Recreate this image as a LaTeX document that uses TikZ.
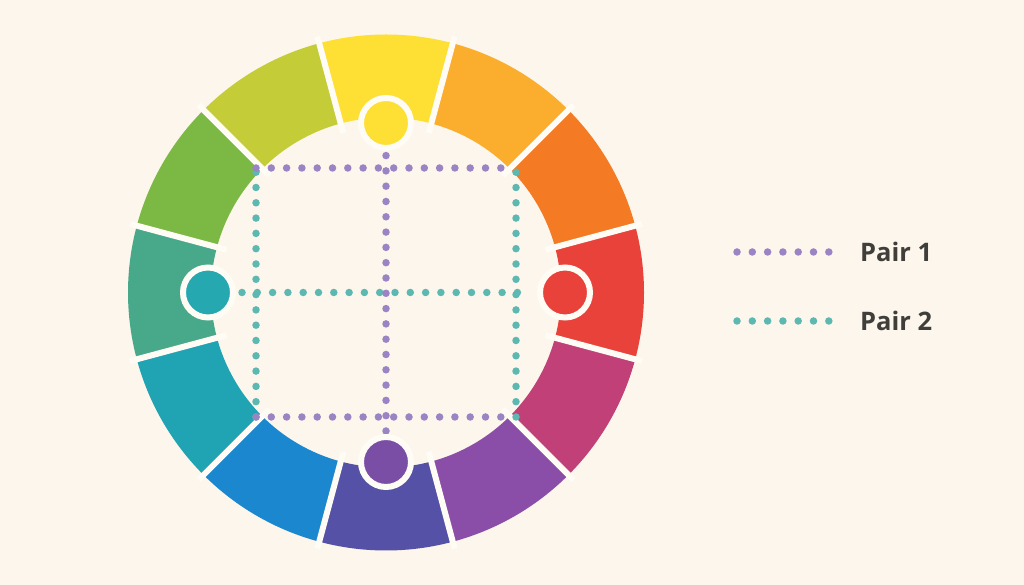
\documentclass[tikz,border=0pt]{standalone}
\usepackage{fontspec}
\setmainfont{Open Sans}
\begin{document}
\begin{tikzpicture}[x=1pt,y=1pt,
  dotp/.style={draw=dotpurple,line width=7.5pt,line cap=round,dash pattern=on 0pt off 15.3pt},
  dott/.style={draw=dotteal,line width=7.5pt,line cap=round,dash pattern=on 0pt off 15.3pt},
  marker/.style={circle,minimum size=50pt,inner sep=0pt,draw=ringwhite,line width=6pt},
  legtext/.style={anchor=west,font=\fontsize{25.5}{30}\selectfont\bfseries,text=textgray,inner sep=0pt}]
\definecolor{bg}{HTML}{FCF6EC}
\definecolor{ringwhite}{HTML}{FFFCF6}
\definecolor{dotpurple}{HTML}{9A84C4}
\definecolor{dotteal}{HTML}{5CB8B0}
\definecolor{textgray}{HTML}{403E3B}
\definecolor{c0}{HTML}{E8423B}
\definecolor{c1}{HTML}{F47A24}
\definecolor{c2}{HTML}{FBAD2E}
\definecolor{c3}{HTML}{FDE033}
\definecolor{c4}{HTML}{C4CC38}
\definecolor{c5}{HTML}{7CB944}
\definecolor{c6}{HTML}{48A98A}
\definecolor{c7}{HTML}{20A3B3}
\definecolor{c8}{HTML}{1B87CF}
\definecolor{c9}{HTML}{5451A6}
\definecolor{c10}{HTML}{8A4EA8}
\definecolor{c11}{HTML}{C04077}
\definecolor{cpurple}{HTML}{7B4EA5}
\definecolor{cteal}{HTML}{25A8B0}
\fill[bg] (0,0) rectangle (1024,585);
\useasboundingbox (0,0) rectangle (1024,585);
% wheel
\begin{scope}[shift={(386,292.5)}]
\foreach \i in {0,...,11}{
  \pgfmathsetmacro{\a}{\i*30-15}
  \pgfmathsetmacro{\b}{\i*30+15}
  \fill[c\i] (\a:258) arc[start angle=\a,end angle=\b,radius=258] -- (\b:175) arc[start angle=\b,end angle=\a,radius=175] -- cycle;
}
\foreach \i in {0,...,11}{
  \draw[ringwhite,line width=6pt] (\i*30+15:165) -- (\i*30+15:265);
}
\end{scope}
% rectangle corners and markers
\coordinate (tl) at (256,417);
\coordinate (tr) at (516,417);
\coordinate (bl) at (256,168);
\coordinate (br) at (516,168);
\coordinate (ptop) at (386,431);
\coordinate (pbot) at (386,154);
\coordinate (tleft) at (242,292.5);
\coordinate (tright) at (530,292.5);
\draw[dott] (bl) -- (tl);
\draw[dott] (br) -- (tr);
\draw[dott] (tleft) -- (tright);
\draw[dotp] (tl) -- (tr);
\draw[dotp] (bl) -- (br);
\draw[dotp] (pbot) -- (ptop);
\node[marker,fill=c3] (myellow) at (386,462) {};
\node[marker,fill=cpurple] (mpurple) at (386,123) {};
\node[marker,fill=cteal] (mteal) at (208,292.5) {};
\node[marker,fill=c0] (mred) at (565,292.5) {};
% legend
\coordinate (l1a) at (737,333);
\coordinate (l1b) at (829,333);
\coordinate (l2a) at (737,264);
\coordinate (l2b) at (829,264);
\draw[dotp] (l1a) -- (l1b);
\draw[dott] (l2a) -- (l2b);
\node[legtext] (p1) at (860,333) {Pair 1};
\node[legtext] (p2) at (860,264) {Pair 2};
\end{tikzpicture}
\end{document}
